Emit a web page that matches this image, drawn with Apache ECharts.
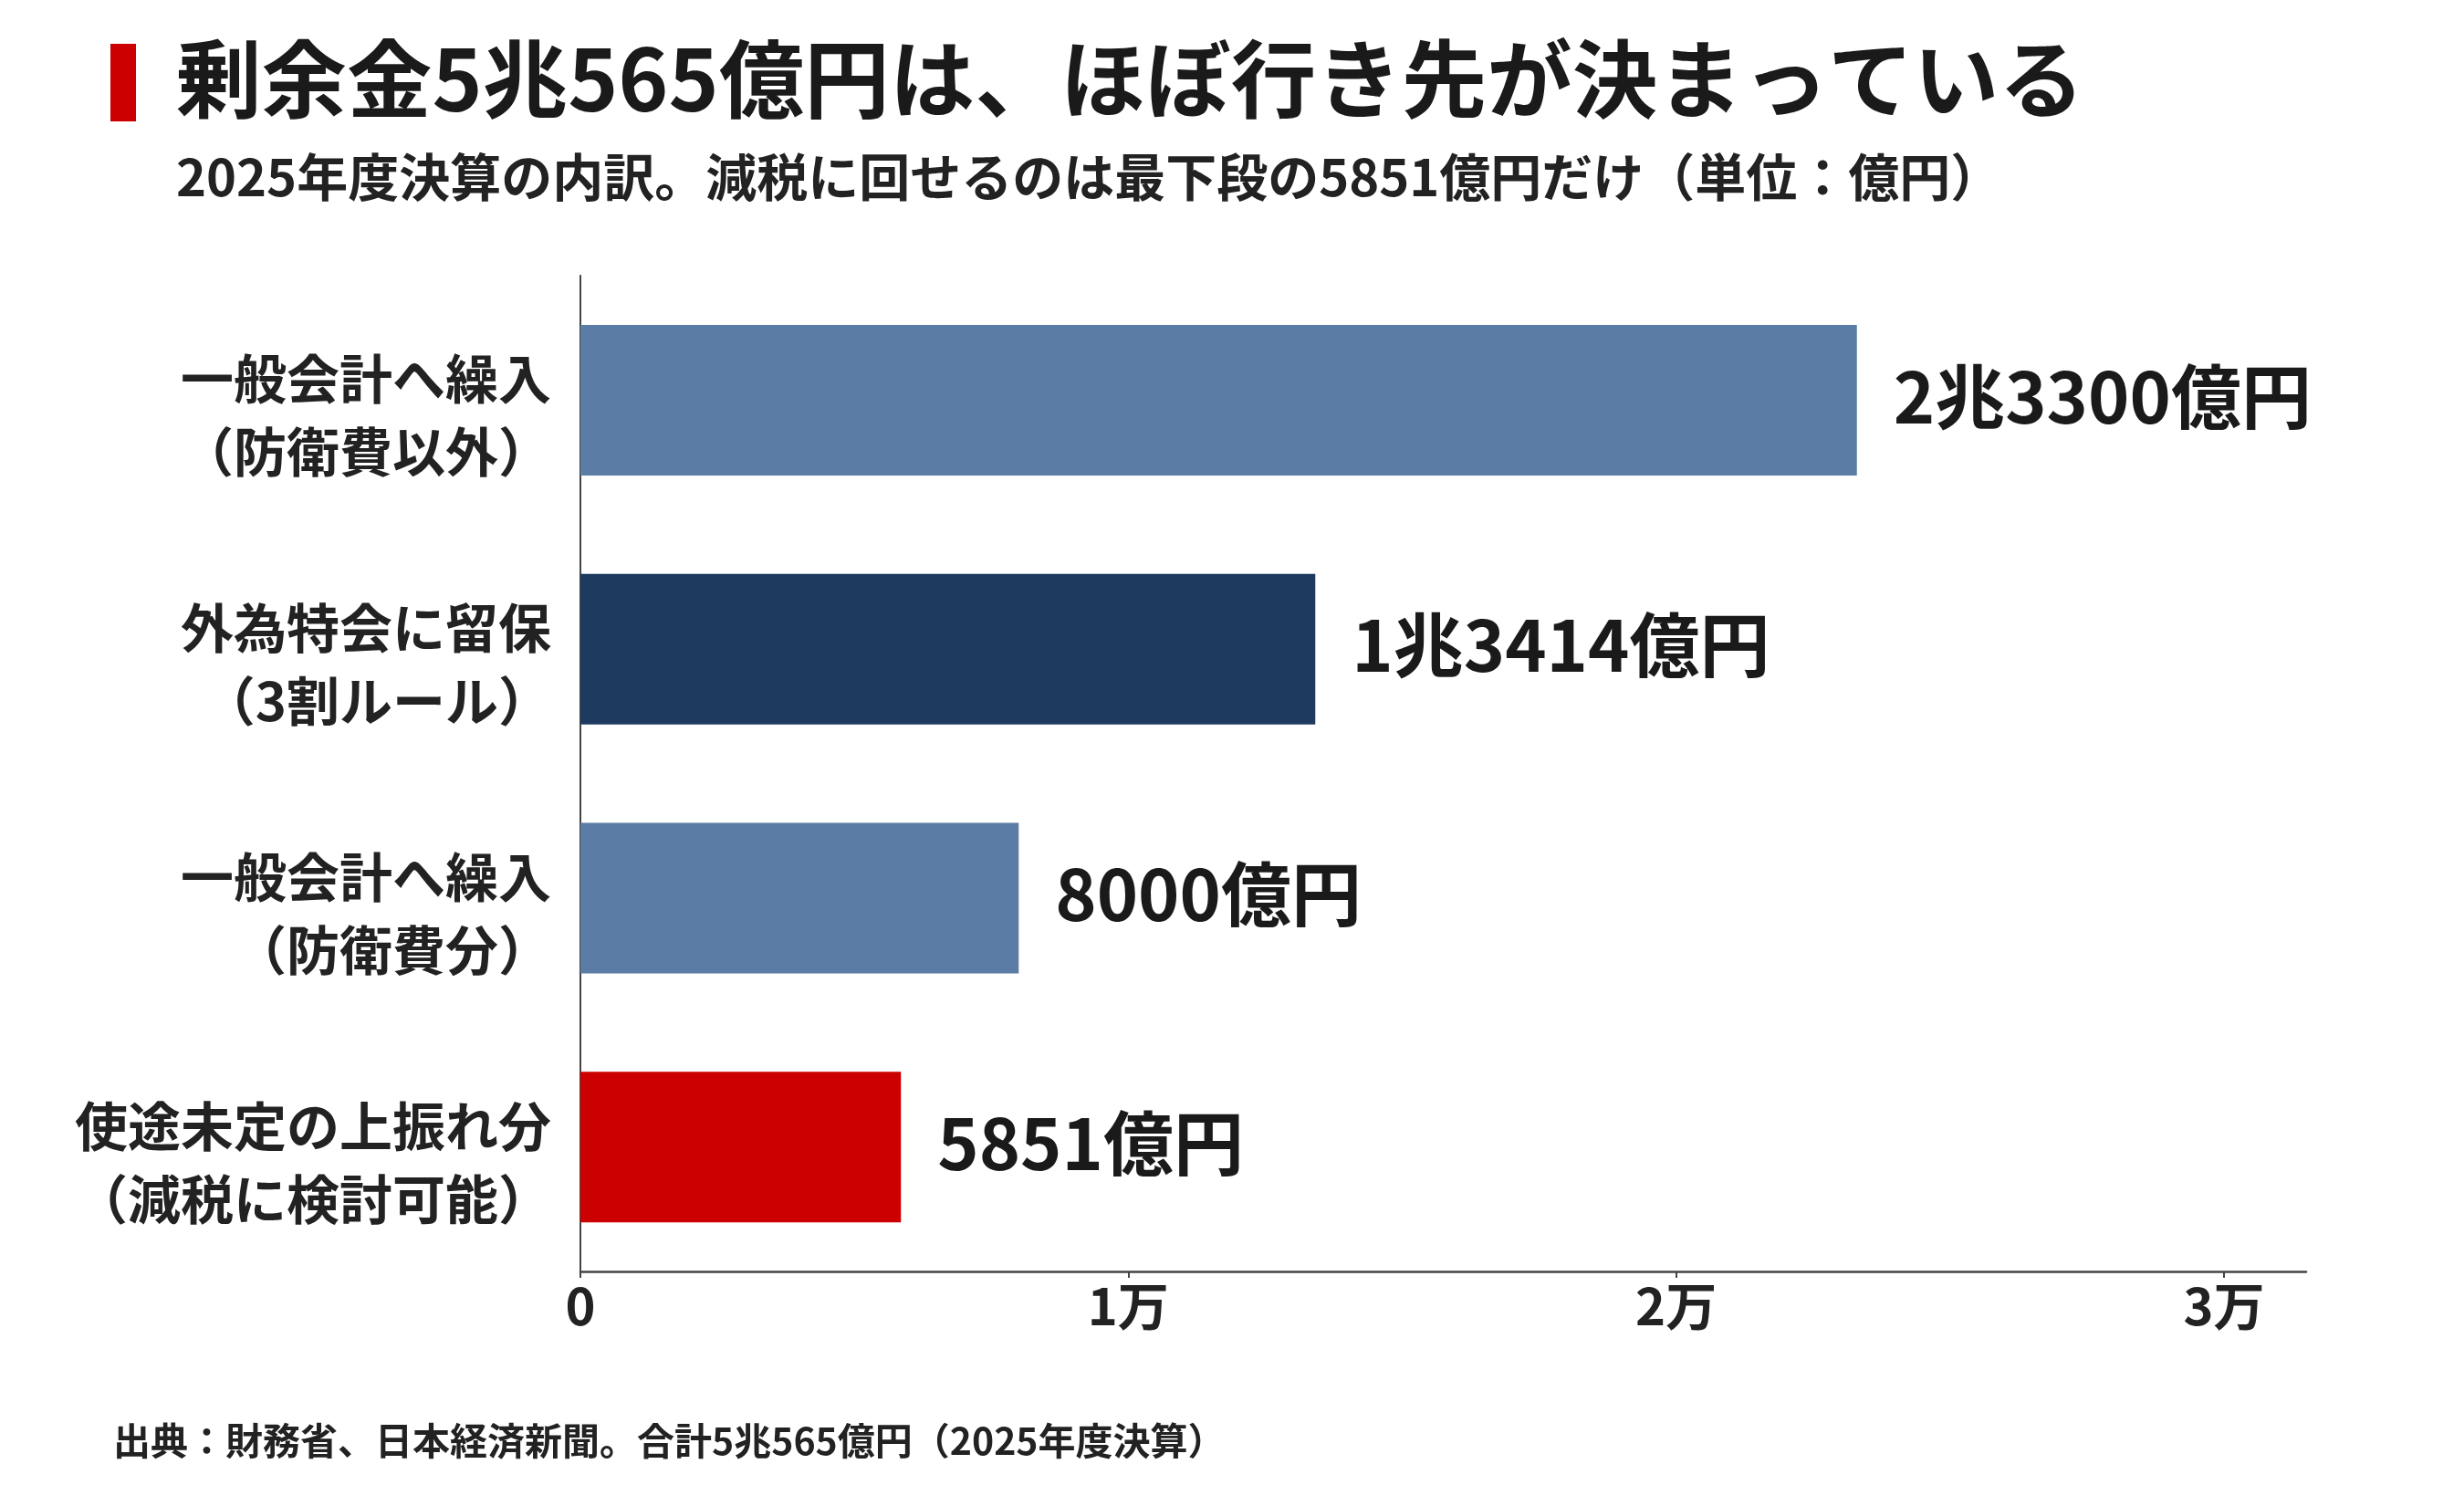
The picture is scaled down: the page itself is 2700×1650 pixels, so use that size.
<!DOCTYPE html>
<html lang="ja">
<head>
<meta charset="UTF-8">
<title>剰余金5兆565億円は、ほぼ行き先が決まっている</title>
<script src="https://cdn.jsdelivr.net/npm/echarts@6/dist/echarts.min.js"></script>
<style>
  * { margin: 0; padding: 0; }
  html, body { background: #fff; }
  #chart { width: 2700px; height: 1650px; }
</style>
</head>
<body>
<div id="chart"></div>
<script>
  // データ（単位：億円）
  const categories = [
    '一般会計へ繰入\n（防衛費以外）',
    '外為特会に留保\n（3割ルール）',
    '一般会計へ繰入\n（防衛費分）',
    '使途未定の上振れ分\n（減税に検討可能）'
  ];
  const values = [23300, 13414, 8000, 5851];
  const valueLabels = ['2兆3300億円', '1兆3414億円', '8000億円', '5851億円'];
  const tickValues = [0, 10000, 20000, 30000];
  const tickLabels = ['0', '1万', '2万', '3万'];

  const titleText = '剰余金5兆565億円は、ほぼ行き先が決まっている';
  const subtitleText = '2025年度決算の内訳。減税に回せるのは最下段の5851億円だけ（単位：億円）';
  const sourceText = '出典：財務省、日本経済新聞。合計5兆565億円（2025年度決算）';

  // 色
  const barColors = ['#5b7ca4', '#1f3a5f', '#5b7ca4', '#cc0000'];
  const FONT = '"Noto Sans CJK JP", "Noto Sans", sans-serif';

  const chart = echarts.init(document.getElementById('chart'));

  const option = {
    backgroundColor: '#ffffff',
    animation: false,
    textStyle: { fontFamily: FONT },
    title: [
      {
        text: titleText,
        left: 193, top: 36, padding: 0,
        textStyle: { fontSize: 93.5, fontWeight: 'bold', color: '#1a1a1a', lineHeight: 100, fontFamily: FONT }
      },
      {
        text: subtitleText,
        left: 193, top: 164, padding: 0,
        textStyle: { fontSize: 56, fontWeight: 'bold', color: '#222', lineHeight: 60, fontFamily: FONT }
      },
      {
        text: sourceText,
        left: 124, top: 1553, padding: 0,
        textStyle: { fontSize: 41, fontWeight: 'bold', color: '#222', lineHeight: 50, fontFamily: FONT }
      }
    ],
    graphic: [
      {
        type: 'rect',
        shape: { x: 121, y: 48, width: 28, height: 85 },
        style: { fill: '#cc0000' }
      }
    ],
    grid: {
      left: 636,
      right: 173,
      top: 302,
      bottom: 257,
      containLabel: false
    },
    xAxis: {
      type: 'value',
      min: 0,
      max: 31500,
      interval: 10000,
      splitLine: { show: false },
      axisLine: { show: true, lineStyle: { color: '#444', width: 2.5 } },
      axisTick: { show: true, length: 7, lineStyle: { color: '#444', width: 2 } },
      axisLabel: {
        showMaxLabel: false,
        margin: 10,
        fontSize: 56,
        fontWeight: 'bold',
        color: '#222',
        fontFamily: FONT,
        formatter: v => {
          const i = tickValues.indexOf(v);
          return i >= 0 ? tickLabels[i] : '';
        }
      }
    },
    yAxis: {
      type: 'category',
      inverse: true,
      data: categories,
      axisLine: { show: true, lineStyle: { color: '#444', width: 2 } },
      axisTick: { show: false },
      axisLabel: {
        margin: 32,
        color: '#222',
        align: 'right',
        fontFamily: FONT,
        // 先頭に空行を入れて、2行ラベルを少し下げる
        formatter: v => '{gap| }\n' + v.split('\n').map(s => '{t|' + s + '}').join('\n'),
        rich: {
          gap: { fontSize: 2, lineHeight: 34 },
          t: { fontSize: 58, fontWeight: 'bold', lineHeight: 80, color: '#222', fontFamily: FONT }
        }
      }
    },
    series: [
      {
        type: 'bar',
        barWidth: 165,
        data: values.map((v, i) => ({ value: v, itemStyle: { color: barColors[i] } })),
        label: {
          show: true,
          position: 'right',
          distance: 40,
          offset: [0, -4],
          fontSize: 77,
          fontWeight: 'bold',
          color: '#1a1a1a',
          fontFamily: FONT,
          formatter: p => valueLabels[p.dataIndex]
        }
      }
    ]
  };

  chart.setOption(option);
</script>
</body>
</html>
